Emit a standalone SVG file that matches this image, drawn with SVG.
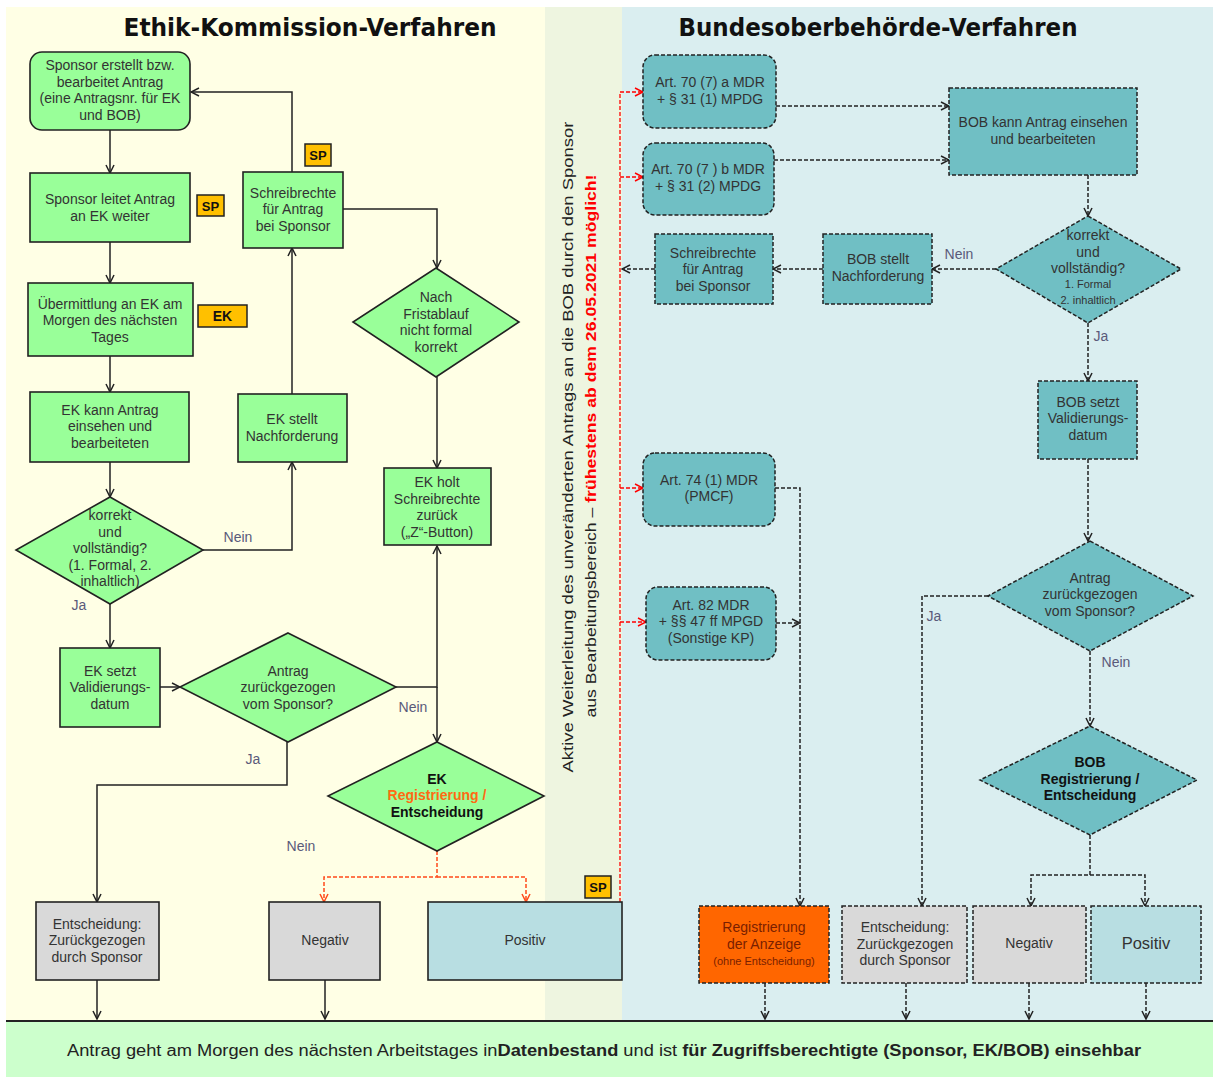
<svg xmlns="http://www.w3.org/2000/svg" width="1213" height="1077" viewBox="0 0 1213 1077">
<style>
text{font-family:"Liberation Sans",Arial,sans-serif;}
.t{font-size:14px;fill:#333;text-anchor:middle;}
.tb{font-size:14px;fill:#111;text-anchor:middle;font-weight:bold;}
.sm{font-size:11px;}
.g{fill:#99FF99;stroke:#222;stroke-width:1.6;}
.gr{fill:#D9D9D9;stroke:#222;stroke-width:1.6;}
.lbx{fill:#B8DEE2;stroke:#222;stroke-width:1.6;}
.tl{fill:#70BFC4;stroke:#222;stroke-width:1.5;stroke-dasharray:4 2;}
.tg{fill:#D9D9D9;stroke:#222;stroke-width:1.5;stroke-dasharray:4 2;}
.tlb{fill:#B8DEE2;stroke:#222;stroke-width:1.5;stroke-dasharray:4 2;}
.tor{fill:#FF6600;stroke:#222;stroke-width:1.5;stroke-dasharray:4 2;}
.badge{fill:#FFC000;stroke:#222;stroke-width:1.5;}
.bt{font-size:13px;font-weight:bold;fill:#111;text-anchor:middle;}
.lab{font-size:14px;fill:#5A5A7A;text-anchor:middle;}
.c{fill:none;stroke:#222;stroke-width:1.5;marker-end:url(#a);}
.cn{fill:none;stroke:#222;stroke-width:1.5;}
.cd{fill:none;stroke:#222;stroke-width:1.5;stroke-dasharray:4 2;marker-end:url(#a);}
.cdn{fill:none;stroke:#222;stroke-width:1.5;stroke-dasharray:4 2;}
.co{fill:none;stroke:#FF4A1A;stroke-width:1.5;stroke-dasharray:4 2;marker-end:url(#ao);}
.con{fill:none;stroke:#FF4A1A;stroke-width:1.5;stroke-dasharray:4 2;}
.cr{fill:none;stroke:#FF0000;stroke-width:1.3;stroke-dasharray:4 2;marker-end:url(#ar);}
.crn{fill:none;stroke:#FF0000;stroke-width:1.3;stroke-dasharray:4 2;}
.title{font-family:"DejaVu Sans",Verdana,sans-serif;font-size:25px;font-weight:bold;fill:#111;text-anchor:middle;}
</style>
<defs>
<marker id="a" viewBox="0 0 10 10" refX="9" refY="5" markerWidth="10" markerHeight="10" markerUnits="userSpaceOnUse" orient="auto"><path d="M1,1 L9,5 L1,9" fill="none" stroke="#222" stroke-width="1.5"/></marker>
<marker id="ao" viewBox="0 0 10 10" refX="9" refY="5" markerWidth="10" markerHeight="10" markerUnits="userSpaceOnUse" orient="auto"><path d="M1,1 L9,5 L1,9" fill="none" stroke="#FF4A1A" stroke-width="1.5"/></marker>
<marker id="ar" viewBox="0 0 10 10" refX="9" refY="5" markerWidth="10" markerHeight="10" markerUnits="userSpaceOnUse" orient="auto"><path d="M1,1 L9,5 L1,9" fill="none" stroke="#FF0000" stroke-width="1.5"/></marker>
</defs>

<rect x="0" y="0" width="1213" height="1077" fill="#FFFFFF"/>
<g id="panels">
<rect x="6" y="7" width="539" height="1014" fill="#FFFFE5"/>
<rect x="545" y="7" width="77" height="1014" fill="#EEF5E0"/>
<rect x="622" y="7" width="591" height="1014" fill="#DAEEF0"/>
<rect x="6" y="1021" width="1207" height="56" fill="#CCFFCC"/>
<line x1="6" y1="1021" x2="1213" y2="1021" stroke="#222" stroke-width="2"/>
</g>

<text class="title" x="310" y="36" textLength="373" lengthAdjust="spacingAndGlyphs">Ethik-Kommission-Verfahren</text>
<text class="title" x="878" y="36" textLength="399" lengthAdjust="spacingAndGlyphs">Bundesoberbehörde-Verfahren</text>

<g id="connectors">
<path class="c" d="M110,130 V173"/>
<path class="c" d="M110,242 V283"/>
<path class="c" d="M110,356 V392"/>
<path class="c" d="M110,462 V497"/>
<path class="c" d="M203,550 H292 V462"/>
<path class="c" d="M292,394 V248"/>
<path class="c" d="M292,172 V92 H191"/>
<path class="c" d="M343,209 H437 V268"/>
<path class="c" d="M437,377 V468"/>
<path class="c" d="M110,604 V648"/>
<path class="c" d="M160,687 H180"/>
<path class="c" d="M396,687 H437 V546"/>
<path class="c" d="M437,687 V742"/>
<path class="c" d="M287,742 V785 H97 V902"/>
<path class="co" d="M437,851 V877 H324 V902"/>
<path class="co" d="M437,877 H526 V902"/>
<path class="c" d="M97,980 V1019"/>
<path class="c" d="M325,980 V1019"/>

<path class="cr" d="M620,902 V92 H643"/>
<path class="cr" d="M620,177 H643"/>
<path class="cr" d="M620,488 H643"/>
<path class="cr" d="M620,622 H646"/>

<path class="cd" d="M776,106 H949"/>
<path class="cd" d="M774,160 H949"/>
<path class="cd" d="M1088,175 V216"/>
<path class="cd" d="M996,269 H932"/>
<path class="cd" d="M823,269 H773"/>
<path class="cd" d="M655,269 H622"/>
<path class="cd" d="M1088,323 V381"/>
<path class="cd" d="M1088,459 V541"/>
<path class="cd" d="M988,596 H922 V906"/>
<path class="cd" d="M1090,651 V726"/>
<path class="cd" d="M1090,835 V875 H1031 V906"/>
<path class="cd" d="M1090,875 H1145 V906"/>
<path class="cd" d="M775,488 H800 V906"/>
<path class="cd" d="M776,623 H800"/>
<path class="cd" d="M765,983 V1019"/>
<path class="cd" d="M906,983 V1019"/>
<path class="cd" d="M1029,983 V1019"/>
<path class="cd" d="M1146,983 V1019"/>
</g>

<g id="labels">
<text class="lab" x="238" y="542">Nein</text>
<text class="lab" x="79" y="610">Ja</text>
<text class="lab" x="413" y="712">Nein</text>
<text class="lab" x="253" y="764">Ja</text>
<text class="lab" x="301" y="851">Nein</text>
<text class="lab" x="959" y="259">Nein</text>
<text class="lab" x="1101" y="341">Ja</text>
<text class="lab" x="934" y="621">Ja</text>
<text class="lab" x="1116" y="667">Nein</text>
</g>

<g id="n1"><rect class="g" x="30" y="52" width="160" height="78" rx="12"/>
<text class="t"><tspan x="110" y="70">Sponsor erstellt bzw.</tspan><tspan x="110" y="86.5">bearbeitet Antrag</tspan><tspan x="110" y="103">(eine Antragsnr. für EK</tspan><tspan x="110" y="119.5">und BOB)</tspan></text></g>
<g id="n2"><rect class="g" x="30" y="173" width="160" height="69"/>
<text class="t"><tspan x="110" y="204">Sponsor leitet Antrag</tspan><tspan x="110" y="220.5">an EK weiter</tspan></text></g>
<g id="b1"><rect class="badge" x="197" y="195" width="27" height="21"/><text class="bt" x="210.5" y="210.5">SP</text></g>
<g id="n3"><rect class="g" x="243" y="172" width="100" height="76"/>
<text class="t"><tspan x="293" y="197.5">Schreibrechte</tspan><tspan x="293" y="214">für Antrag</tspan><tspan x="293" y="230.5">bei Sponsor</tspan></text></g>
<g id="b2"><rect class="badge" x="305" y="144" width="26" height="22"/><text class="bt" x="318" y="160">SP</text></g>
<g id="n4"><rect class="g" x="28" y="283" width="165" height="73"/>
<text class="t"><tspan x="110" y="308.5">Übermittlung an EK am</tspan><tspan x="110" y="325">Morgen des nächsten</tspan><tspan x="110" y="341.5">Tages</tspan></text></g>
<g id="b3"><rect class="badge" x="198" y="305" width="49" height="22"/><text class="bt" x="222.5" y="321" style="font-size:14px">EK</text></g>
<g id="n5"><rect class="g" x="30" y="392" width="159" height="70"/>
<text class="t"><tspan x="110" y="414.5">EK kann Antrag</tspan><tspan x="110" y="431">einsehen und</tspan><tspan x="110" y="447.5">bearbeiteten</tspan></text></g>
<g id="n6"><rect class="g" x="238" y="394" width="109" height="68"/>
<text class="t"><tspan x="292" y="424">EK stellt</tspan><tspan x="292" y="440.5">Nachforderung</tspan></text></g>
<g id="d7"><polygon class="g" points="436,268 519,322 436,377 353,322"/>
<text class="t"><tspan x="436" y="302">Nach</tspan><tspan x="436" y="318.5">Fristablauf</tspan><tspan x="436" y="335">nicht formal</tspan><tspan x="436" y="351.5">korrekt</tspan></text></g>
<g id="n8"><rect class="g" x="384" y="468" width="107" height="77"/>
<text class="t"><tspan x="437" y="487">EK holt</tspan><tspan x="437" y="503.5">Schreibrechte</tspan><tspan x="437" y="520">zurück</tspan><tspan x="437" y="536.5">(„Z“-Button)</tspan></text></g>
<g id="d9"><polygon class="g" points="110,497 203,550 110,604 16,550"/>
<text class="t"><tspan x="110" y="520">korrekt</tspan><tspan x="110" y="536.5">und</tspan><tspan x="110" y="553">vollständig?</tspan><tspan x="110" y="569.5">(1. Formal, 2.</tspan><tspan x="110" y="586">inhaltlich)</tspan></text></g>
<g id="n10"><rect class="g" x="60" y="648" width="100" height="79"/>
<text class="t"><tspan x="110" y="675.5">EK setzt</tspan><tspan x="110" y="692">Validierungs-</tspan><tspan x="110" y="708.5">datum</tspan></text></g>
<g id="d11"><polygon class="g" points="288,633 396,687 288,742 180,687"/>
<text class="t"><tspan x="288" y="675.5">Antrag</tspan><tspan x="288" y="692">zurückgezogen</tspan><tspan x="288" y="708.5">vom Sponsor?</tspan></text></g>
<g id="d12"><polygon class="g" points="437,742 544,796 437,851 328,796"/>
<text class="tb"><tspan x="437" y="783.5">EK</tspan><tspan x="437" y="800" fill="#FF6A13">Registrierung /</tspan><tspan x="437" y="816.5">Entscheidung</tspan></text></g>
<g id="n13"><rect class="gr" x="36" y="902" width="123" height="78"/>
<text class="t"><tspan x="97" y="928.5">Entscheidung:</tspan><tspan x="97" y="945">Zurückgezogen</tspan><tspan x="97" y="961.5">durch Sponsor</tspan></text></g>
<g id="n14"><rect class="gr" x="269" y="902" width="111" height="78"/>
<text class="t" x="325" y="945">Negativ</text></g>
<g id="n15"><rect class="lbx" x="428" y="902" width="194" height="78"/>
<text class="t" x="525" y="945">Positiv</text></g>
<g id="b4"><rect class="badge" x="585" y="876" width="26" height="22"/><text class="bt" x="598" y="892">SP</text></g>

<g id="vtext">
<text transform="translate(573,447) rotate(-90)" text-anchor="middle" font-size="15" fill="#222" textLength="651" lengthAdjust="spacingAndGlyphs">Aktive Weiterleitung des unveränderten Antrags an die BOB durch den Sponsor</text>
<text transform="translate(596,446) rotate(-90)" text-anchor="middle" font-size="15" fill="#222" textLength="543" lengthAdjust="spacingAndGlyphs">aus Bearbeitungsbereich – <tspan fill="#FF0000" font-weight="bold">frühestens ab dem 26.05.2021 möglich!</tspan></text>
</g>

<g id="r1"><rect class="tl" x="643" y="55" width="133" height="73" rx="12"/>
<text class="t"><tspan x="710" y="87">Art. 70 (7)  a MDR</tspan><tspan x="710" y="103.5">+ § 31 (1) MPDG</tspan></text></g>
<g id="r2"><rect class="tl" x="643" y="143" width="131" height="72" rx="12"/>
<text class="t"><tspan x="708" y="174">Art. 70 (7 ) b MDR</tspan><tspan x="708" y="190.5">+ § 31 (2) MPDG</tspan></text></g>
<g id="r3"><rect class="tl" x="949" y="88" width="188" height="87"/>
<text class="t"><tspan x="1043" y="127">BOB kann Antrag einsehen</tspan><tspan x="1043" y="143.5">und bearbeiteten</tspan></text></g>
<g id="r4"><polygon class="tl" points="1088,216 1181,269 1088,323 996,269"/>
<text class="t"><tspan x="1088" y="240">korrekt</tspan><tspan x="1088" y="256.5">und</tspan><tspan x="1088" y="273">vollständig?</tspan><tspan x="1088" y="288" class="sm">1. Formal</tspan><tspan x="1088" y="304" class="sm">2. inhaltlich</tspan></text></g>
<g id="r5"><rect class="tl" x="823" y="234" width="109" height="70"/>
<text class="t"><tspan x="878" y="264">BOB stellt</tspan><tspan x="878" y="280.5">Nachforderung</tspan></text></g>
<g id="r6"><rect class="tl" x="655" y="234" width="118" height="70"/>
<text class="t"><tspan x="713" y="257.5">Schreibrechte</tspan><tspan x="713" y="274">für Antrag</tspan><tspan x="713" y="290.5">bei Sponsor</tspan></text></g>
<g id="r7"><rect class="tl" x="1038" y="381" width="99" height="78"/>
<text class="t"><tspan x="1088" y="406.5">BOB setzt</tspan><tspan x="1088" y="423">Validierungs-</tspan><tspan x="1088" y="439.5">datum</tspan></text></g>
<g id="r8"><polygon class="tl" points="1090,541 1193,596 1090,651 988,596"/>
<text class="t"><tspan x="1090" y="582.5">Antrag</tspan><tspan x="1090" y="599">zurückgezogen</tspan><tspan x="1090" y="615.5">vom Sponsor?</tspan></text></g>
<g id="r9"><polygon class="tl" points="1090,726 1197,780 1090,835 980,780"/>
<text class="tb"><tspan x="1090" y="767">BOB</tspan><tspan x="1090" y="783.5">Registrierung /</tspan><tspan x="1090" y="800">Entscheidung</tspan></text></g>
<g id="r10"><rect class="tl" x="643" y="453" width="132" height="73" rx="12"/>
<text class="t"><tspan x="709" y="484.5">Art. 74 (1)  MDR</tspan><tspan x="709" y="501">(PMCF)</tspan></text></g>
<g id="r11"><rect class="tl" x="646" y="587" width="130" height="73" rx="12"/>
<text class="t"><tspan x="711" y="609.5">Art. 82 MDR</tspan><tspan x="711" y="626">+ §§ 47 ff MPGD</tspan><tspan x="711" y="642.5">(Sonstige KP)</tspan></text></g>
<g id="r12"><rect class="tor" x="699" y="906" width="130" height="77"/>
<text class="t" style="fill:#7A1F00"><tspan x="764" y="932">Registrierung</tspan><tspan x="764" y="949">der Anzeige</tspan><tspan x="764" y="965" class="sm">(ohne Entscheidung)</tspan></text></g>
<g id="r13"><rect class="tg" x="842" y="906" width="125" height="77"/>
<text class="t"><tspan x="905" y="932">Entscheidung:</tspan><tspan x="905" y="948.5">Zurückgezogen</tspan><tspan x="905" y="965">durch Sponsor</tspan></text></g>
<g id="r14"><rect class="tg" x="973" y="906" width="113" height="77"/>
<text class="t" x="1029" y="948">Negativ</text></g>
<g id="r15"><rect class="tlb" x="1091" y="906" width="110" height="77"/>
<text class="t" x="1146" y="949" style="font-size:16.5px">Positiv</text></g>

<g id="bottom">
<text x="604" y="1056" text-anchor="middle" font-size="16" fill="#222" textLength="1074" lengthAdjust="spacingAndGlyphs">Antrag geht am Morgen des nächsten Arbeitstages in<tspan font-weight="bold">Datenbestand</tspan> und ist <tspan font-weight="bold">für Zugriffsberechtigte (Sponsor, EK/BOB) einsehbar</tspan></text>
</g>
</svg>
